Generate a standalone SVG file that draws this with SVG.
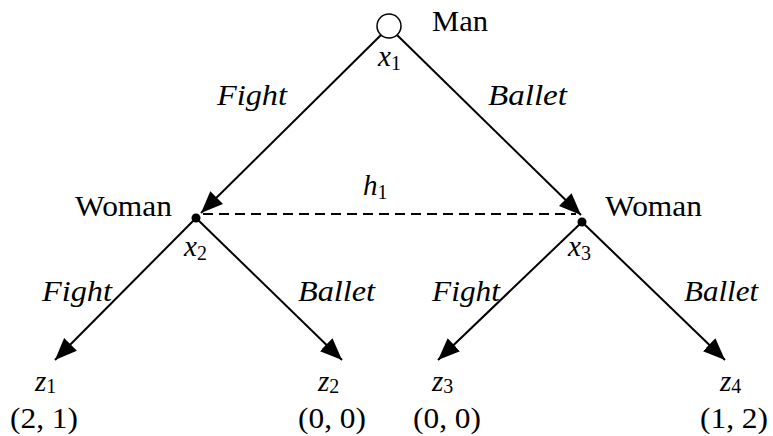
<svg xmlns="http://www.w3.org/2000/svg" width="773" height="436" viewBox="0 0 773 436">
<style>
text{font-family:'Liberation Serif','Times New Roman',serif;fill:#000;font-size:29px}
.it{font-style:italic}
.sub{font-style:normal;font-size:20px}
.edge{stroke:#000;stroke-width:2;fill:none}
</style>
<defs>
<marker id="ah" markerUnits="userSpaceOnUse" markerWidth="24" markerHeight="20" refX="22" refY="9" orient="auto" viewBox="0 0 24 18">
<path d="M0,0 L22,9 L0,18 Z" fill="#000"/>
</marker>
</defs>
<rect width="773" height="436" fill="#fff"/>
<g id="connectors">
<line class="edge" x1="381" y1="35" x2="201" y2="213" marker-end="url(#ah)"/>
<line class="edge" x1="397" y1="35" x2="581" y2="215" marker-end="url(#ah)"/>
<line class="edge" x1="203" y1="214" x2="576" y2="214" stroke-dasharray="10,6"/>
<line class="edge" x1="196" y1="218" x2="55" y2="360" marker-end="url(#ah)"/>
<line class="edge" x1="196" y1="218" x2="342" y2="360" marker-end="url(#ah)"/>
<line class="edge" x1="582" y1="222" x2="438" y2="360" marker-end="url(#ah)"/>
<line class="edge" x1="582" y1="222" x2="725" y2="360" marker-end="url(#ah)"/>
<text class="it" x="217" y="105" textLength="70" lengthAdjust="spacingAndGlyphs">Fight</text>
<text class="it" x="488" y="105" textLength="79" lengthAdjust="spacingAndGlyphs">Ballet</text>
<text class="it" x="363" y="195">h<tspan class="sub" dy="4">1</tspan></text>
<text class="it" x="42" y="301" textLength="70" lengthAdjust="spacingAndGlyphs">Fight</text>
<text class="it" x="298" y="301" textLength="77" lengthAdjust="spacingAndGlyphs">Ballet</text>
<text class="it" x="432" y="301" textLength="68" lengthAdjust="spacingAndGlyphs">Fight</text>
<text class="it" x="684" y="301" textLength="74" lengthAdjust="spacingAndGlyphs">Ballet</text>
</g>
<g id="x1">
<circle cx="389" cy="26" r="12" fill="#fff" stroke="#000" stroke-width="1.5"/>
<text x="432" y="31" textLength="56" lengthAdjust="spacingAndGlyphs">Man</text>
<text class="it" x="378" y="66">x<tspan class="sub" dy="4">1</tspan></text>
</g>
<g id="x2">
<circle cx="196" cy="218" r="4.5" fill="#000"/>
<text x="75" y="216" textLength="97" lengthAdjust="spacingAndGlyphs">Woman</text>
<text class="it" x="184" y="256">x<tspan class="sub" dy="4">2</tspan></text>
</g>
<g id="x3">
<circle cx="582" cy="222" r="4.5" fill="#000"/>
<text x="605" y="216" textLength="97" lengthAdjust="spacingAndGlyphs">Woman</text>
<text class="it" x="568" y="256">x<tspan class="sub" dy="4">3</tspan></text>
</g>
<g id="z1">
<text class="it" x="35" y="391">z<tspan class="sub" dy="2">1</tspan></text>
<text x="10" y="428" textLength="68" lengthAdjust="spacingAndGlyphs">(2, 1)</text>
</g>
<g id="z2">
<text class="it" x="318" y="391">z<tspan class="sub" dy="2">2</tspan></text>
<text x="298" y="428" textLength="68" lengthAdjust="spacingAndGlyphs">(0, 0)</text>
</g>
<g id="z3">
<text class="it" x="432" y="391">z<tspan class="sub" dy="2">3</tspan></text>
<text x="413" y="428" textLength="68" lengthAdjust="spacingAndGlyphs">(0, 0)</text>
</g>
<g id="z4">
<text class="it" x="720" y="391">z<tspan class="sub" dy="2">4</tspan></text>
<text x="700" y="428" textLength="68" lengthAdjust="spacingAndGlyphs">(1, 2)</text>
</g>
</svg>
